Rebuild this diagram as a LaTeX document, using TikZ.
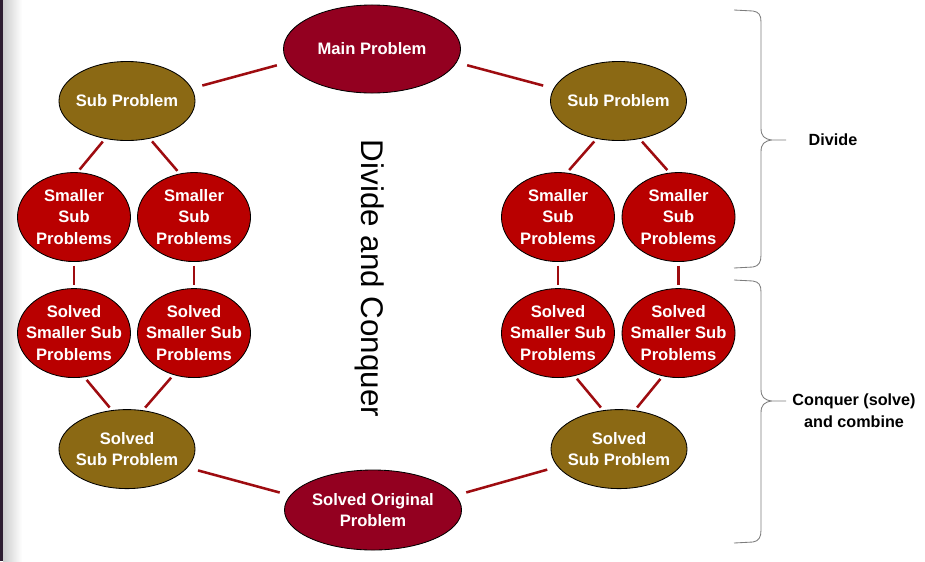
\documentclass[tikz,border=0pt]{standalone}
\usepackage{fontspec}
\setmainfont{Liberation Sans}
\usetikzlibrary{shapes.geometric}

\definecolor{mainred}{RGB}{147,0,32}
\definecolor{subbrown}{RGB}{139,105,20}
\definecolor{smallred}{RGB}{185,0,0}
\definecolor{linkred}{RGB}{158,12,16}
\definecolor{bracegray}{RGB}{125,125,125}
\definecolor{stripdark}{RGB}{45,28,48}

\begin{document}
\begin{tikzpicture}[x=0.025cm, y=0.025cm, node distance=2.9cm]
        % Define styles
        \tikzstyle{prob} = [ellipse, draw=black, line width=0.6pt, inner sep=-40pt, outer sep=0pt, text=white, align=center, font=\bfseries\fontsize{11.8}{15.3}\selectfont]
        \tikzstyle{mainprob} = [prob, fill=mainred, minimum width=4.425cm, minimum height=2.2cm]
        \tikzstyle{subprob} = [prob, fill=subbrown, minimum width=3.4cm, minimum height=1.975cm]
        \tikzstyle{smallprob} = [prob, fill=smallred, minimum width=2.825cm, minimum height=2.225cm]
        \tikzstyle{link} = [draw=linkred, line width=1.8pt, shorten >=0.1cm, shorten <=0.1cm]
        \tikzstyle{farlink} = [link, shorten >=0.28cm, shorten <=0.28cm]
        \tikzstyle{bracket} = [draw=bracegray, line width=0.6pt]
        \tikzstyle{note} = [align=center, font=\bfseries\fontsize{11.5}{15.6}\selectfont]

        % Canvas
        \useasboundingbox (0,0) rectangle (925,-561);
        \fill [white] (0,0) rectangle (925,-561);
        \fill [stripdark] (0,0) rectangle (3,-561);
        \shade [left color=black!20, right color=white] (3,0) rectangle (22,-561);

        % Nodes
        \node (main) [mainprob] at (372,-49) {Main Problem};
        \node (subL) [subprob] at (127,-101) {Sub Problem};
        \node (subR) [subprob] at (618.5,-101) {Sub Problem};

        \node (smL1) [smallprob, below of=subL, xshift=-1.325cm] {Smaller\\Sub\\Problems};
        \node (smL2) [smallprob, below of=subL, xshift=1.675cm] {Smaller\\Sub\\Problems};
        \node (smR1) [smallprob, below of=subR, xshift=-1.5125cm] {Smaller\\Sub\\Problems};
        \node (smR2) [smallprob, below of=subR, xshift=1.5cm] {Smaller\\Sub\\Problems};

        \node (solL1) [smallprob, below of=smL1] {Solved\\Smaller Sub\\Problems};
        \node (solL2) [smallprob, below of=smL2] {Solved\\Smaller Sub\\Problems};
        \node (solR1) [smallprob, below of=smR1] {Solved\\Smaller Sub\\Problems};
        \node (solR2) [smallprob, below of=smR2] {Solved\\Smaller Sub\\Problems};

        \node (solsubL) [subprob, below of=solL1, xshift=1.325cm] {Solved\\Sub Problem};
        \node (solsubR) [subprob, below of=solR1, xshift=1.525cm] {Solved\\Sub Problem};
        \node (final) [mainprob, minimum height=2cm] at (373,-510) {Solved Original\\Problem};

        \node (title) [rotate=-90, font=\fontsize{22.3}{26}\selectfont] at (370,-278.5) {Divide and Conquer};
        \node (divlbl) [note] at (833,-140) {Divide};
        \node (conqlbl) [note] at (854,-411) {Conquer (solve)\\and combine};

        % Connectors
        \draw [farlink] (main.189) -- (subL.11);
        \draw [farlink] (main.351) -- (subR.169);
        \draw [link] (subL.240) -- (smL1.86);
        \draw [link] (subL.301) -- (smL2.108);
        \draw [link] (subR.240) -- (smR1.79);
        \draw [link] (subR.299) -- (smR2.101);
        \draw [link] (smL1) -- (solL1);
        \draw [link] (smL2) -- (solL2);
        \draw [link] (smR1) -- (solR1);
        \draw [link] (smR2) -- (solR2);
        \draw [link] (solL1.283) -- (solsubL.111);
        \draw [link] (solL2.244) -- (solsubL.68);
        \draw [link] (solR1.291) -- (solsubR.112);
        \draw [link] (solR2.250) -- (solsubR.68);
        \draw [farlink] (solsubL.343) -- (final.170);
        \draw [farlink] (solsubR.196) -- (final.10);

        % Braces
        \draw [bracket] (734,-10) -- (753,-11) .. controls (759,-12) and (761,-15) .. (761,-22) -- (761,-128)
            .. controls (761,-136) and (764,-139) .. (772,-140) -- (786,-140) -- (772,-140)
            .. controls (764,-141) and (761,-144) .. (761,-152) -- (761,-255)
            .. controls (761,-262) and (759,-266) .. (753,-267) -- (734,-268);
        \draw [bracket] (734,-280) -- (753,-281) .. controls (759,-282) and (761,-285) .. (761,-292) -- (761,-389)
            .. controls (761,-397) and (764,-400) .. (772,-401) -- (786,-401) -- (772,-401)
            .. controls (764,-402) and (761,-405) .. (761,-413) -- (761,-530)
            .. controls (761,-537) and (759,-541) .. (753,-542) -- (734,-543);
    \end{tikzpicture}
\end{document}
